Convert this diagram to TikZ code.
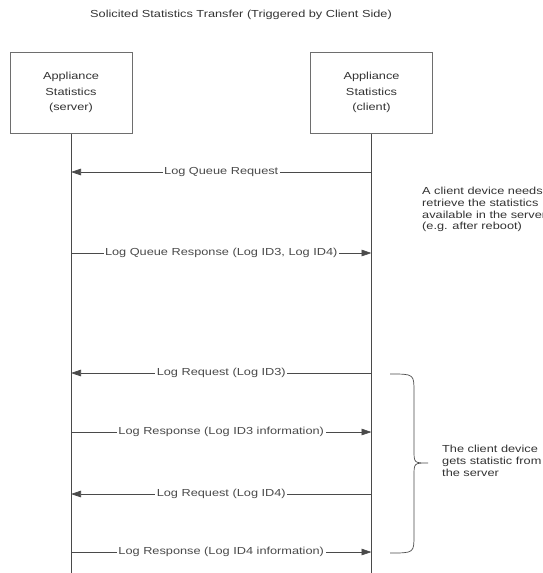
\documentclass[tikz,border=0pt]{standalone}
\usepackage{fontspec}
\setmainfont{Liberation Sans}[FakeStretch=1.25]
\usepackage{xcolor}
\definecolor{LineGrey}{HTML}{4A4A4A}
\definecolor{BoxGrey}{HTML}{6E6E6E}
\definecolor{TextGrey}{HTML}{333333}
\usepackage{tikz}
\usetikzlibrary{positioning,arrows.meta}

\begin{document}
\begin{tikzpicture}[
    x=1pt, y=-1pt,
    font=\fontsize{10.2}{12}\selectfont, text=TextGrey,
    actor/.style={
      rectangle, draw=BoxGrey, line width=1pt, fill=white,
      minimum width=122pt, minimum height=81pt,
      align=center, font=\fontsize{10.2}{15.5}\selectfont
    },
    life/.style={LineGrey, line width=0.7pt},
    msg/.style={-{Triangle[length=10pt,width=6.5pt]}, LineGrey, line width=0.7pt},
    msglabel/.style={fill=white, inner sep=1.5pt},
    remark/.style={align=left, anchor=west, inner sep=0pt, font=\fontsize{10.2}{11.8}\selectfont}
  ]
    \useasboundingbox (0,0) rectangle (543,573);
    \clip (0,0) rectangle (543,573);

    \node (title) at (241,15) {Solicited Statistics Transfer (Triggered by Client Side)};
    \node[actor] (srv) at (71,92.5) {Appliance\\Statistics\\(server)};
    \node[actor] (cli) at (371.5,92.5) {Appliance\\Statistics\\(client)};
    \coordinate (srvend) at (71,573);
    \coordinate (cliend) at (371.5,573);
    \draw[life] (srv) -- (srvend);
    \draw[life] (cli) -- (cliend);

    \foreach \y [count=\i] in {172,253,373,432,494,552} {
      \coordinate (s\i) at (71,\y);
      \coordinate (c\i) at (371.5,\y);
    }

    \draw[msg] (c1) -- node[msglabel] {Log Queue Request} (s1);
    \draw[msg] (s2) -- node[msglabel] {Log Queue Response (Log ID3, Log ID4)} (c2);
    \draw[msg] (c3) -- node[msglabel] {Log Request (Log ID3)} (s3);
    \draw[msg] (s4) -- node[msglabel] {Log Response (Log ID3 information)} (c4);
    \draw[msg] (c5) -- node[msglabel] {Log Request (Log ID4)} (s5);
    \draw[msg] (s6) -- node[msglabel] {Log Response (Log ID4 information)} (c6);

    \node[remark] (queuenote) at (422,209.5) {A client device needs to\\retrieve the statistics\\available in the server\\(e.g. after reboot)};

    \draw[life] (390,374) .. controls (414,374) .. (414,392) -- (414,450)
      .. controls (414,463) .. (428,463) .. controls (414,463) .. (414,476)
      -- (414,535) .. controls (414,553) .. (390,553);
    \node[remark] (bracenote) at (442,461) {The client device\\gets statistic from\\the server};
  \end{tikzpicture}
\end{document}
